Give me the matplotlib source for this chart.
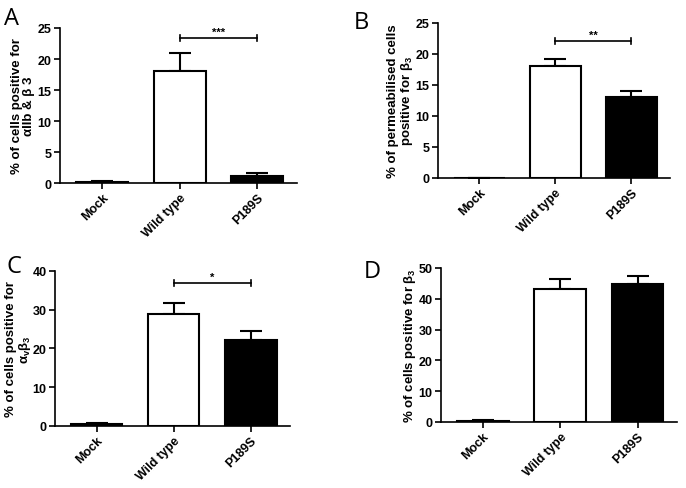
import matplotlib
matplotlib.use("Agg")
import matplotlib.pyplot as plt

plt.rcParams['font.family'] = ['Liberation Sans', 'DejaVu Sans']
plt.rcParams['font.weight'] = 'bold'
plt.rcParams['mathtext.fontset'] = 'custom'
plt.rcParams['mathtext.rm'] = 'Liberation Sans'
plt.rcParams['mathtext.it'] = 'Liberation Sans'
plt.rcParams['mathtext.bf'] = 'Liberation Sans:bold'

groups = ['Mock', 'Wild type', 'P189S']
fills = ['white', 'white', 'black']

# panel A: alpha IIb beta3
a_vals = [0.2, 18.0, 1.1]
a_err = [0.1, 3.0, 0.5]
# panel B: permeabilised, beta3
b_vals = [0.0, 18.1, 13.0]
b_err = [0.0, 1.1, 1.0]
# panel C: alpha v beta3
c_vals = [0.5, 28.8, 22.3]
c_err = [0.3, 3.0, 2.1]
# panel D: beta3
d_vals = [0.3, 43.3, 44.7]
d_err = [0.2, 3.2, 2.8]

panels = [
    # letter, values, errors, ymax, step, ylabel, sig, rect, label x, letter pos
    ('A', a_vals, a_err, 25, 5,
     '% of cells positive for\n\u03b1IIb & \u03b2 3', ('***', 23.4),
     [0.0875, 0.6237, 0.3455, 0.317], -0.105, (0.006, 0.985)),
    ('B', b_vals, b_err, 25, 5,
     '% of permeabilised cells\npositive for $\\beta_3$', ('**', 22.1),
     [0.6385, 0.634, 0.338, 0.317], -0.099, (0.515, 0.978)),
    ('C', c_vals, c_err, 40, 10,
     '% of cells positive for\n$\\alpha_v\\beta_3$', ('*', 36.9),
     [0.0802, 0.1268, 0.3426, 0.317], -0.094, (0.009, 0.478)),
    ('D', d_vals, d_err, 50, 10,
     '% of cells positive for $\\beta_3$', None,
     [0.6429, 0.135, 0.344, 0.315], -0.097, (0.530, 0.468)),
]

fig = plt.figure(figsize=(6.86, 4.89), dpi=100)

for letter, vals, errs, ymax, step, ylab, sig, rect, lx, lpos in panels:
    ax = fig.add_axes(rect)
    x = list(range(len(groups)))
    ax.bar(x, vals, width=0.67, color=fills, edgecolor='black', linewidth=1.5, zorder=2)
    ax.errorbar(x, vals, yerr=[[0] * len(errs), errs], fmt='none', ecolor='black',
                elinewidth=1.5, capsize=8, capthick=1.5, zorder=1)
    ax.set_xlim(-0.54, 2.51)
    ax.set_ylim(0, ymax)
    ax.set_yticks(range(0, ymax + 1, step))
    ax.set_xticks(x)
    ax.set_xticklabels(groups, rotation=45, ha='right', rotation_mode='anchor', fontsize=9, fontweight='bold')
    for t in ax.get_yticklabels():
        t.set_fontsize(9)
        t.set_fontweight('bold')
    for s in ['top', 'right']:
        ax.spines[s].set_visible(False)
    for s in ['left', 'bottom']:
        ax.spines[s].set_linewidth(1.2)
    ax.tick_params(direction='out', length=4, width=1.2, pad=2)
    ax.set_ylabel(ylab, fontsize=9.5, fontweight='bold', linespacing=1.0)
    ax.yaxis.set_label_coords(lx, 0.5)
    if sig is not None:
        stars, ys = sig
        d = ymax * 0.018
        ax.plot([1, 2], [ys, ys], color='black', lw=1.2, clip_on=False)
        ax.plot([1, 1], [ys - d, ys + d], color='black', lw=1.2, clip_on=False)
        ax.plot([2, 2], [ys - d, ys + d], color='black', lw=1.2, clip_on=False)
        ax.text(1.5, ys + ymax * 0.01, stars, ha='center', va='bottom', fontsize=8, fontweight='bold')
    fig.text(lpos[0], lpos[1], letter, ha='left', va='top', fontsize=17, fontweight='normal',
             family=['Open Sans', 'DejaVu Sans'])

fig.savefig('out.png', dpi=100)
